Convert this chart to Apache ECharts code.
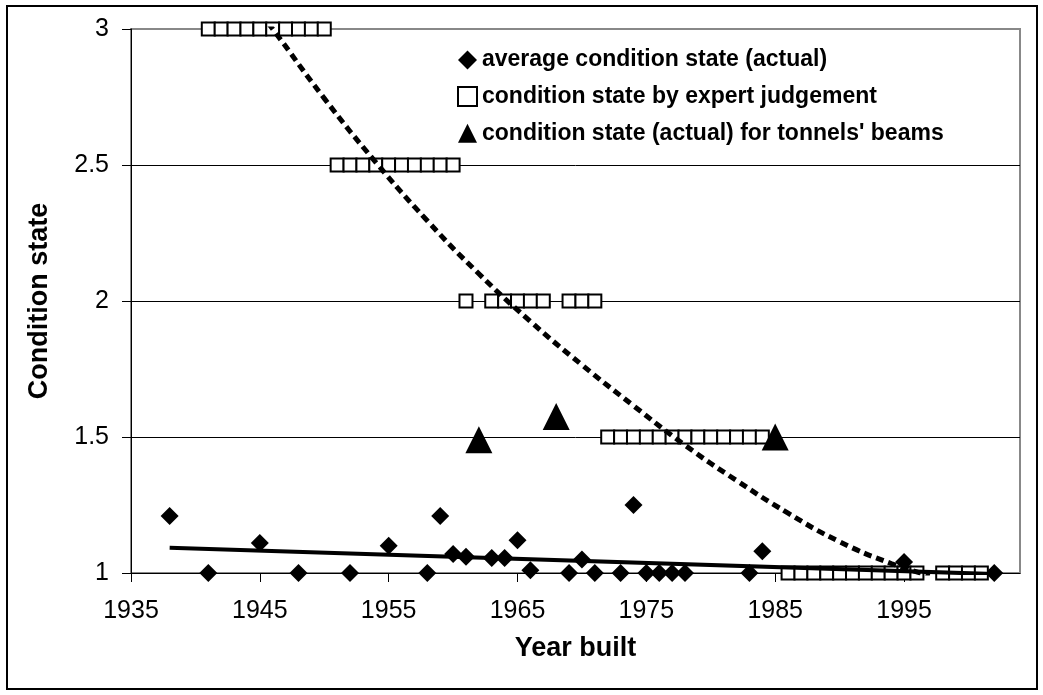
<!DOCTYPE html>
<html>
<head>
<meta charset="utf-8">
<script src="https://cdn.jsdelivr.net/npm/echarts@6/dist/echarts.min.js"></script>
<style>
html,body{margin:0;padding:0;background:#fff;}
#chart{width:1043px;height:695px;}
</style>
</head>
<body>
<div id="chart"></div>
<script>
// ---- data ----
const xTickLabels = [1935, 1945, 1955, 1965, 1975, 1985, 1995];
const yTickLabels = [1, 1.5, 2, 2.5, 3];

const avgYears  = [1938, 1941, 1945, 1948, 1952, 1955, 1958, 1959, 1960, 1961, 1963, 1964, 1965, 1966, 1969, 1970, 1971, 1973, 1974, 1975, 1976, 1977, 1978, 1983, 1984, 1995, 2002];
const avgValues = [1.21, 1.00, 1.11, 1.00, 1.00, 1.10, 1.00, 1.21, 1.07, 1.06, 1.055, 1.055, 1.12, 1.01, 1.00, 1.05, 1.00, 1.00, 1.25, 1.00, 1.00, 1.00, 1.00, 1.00, 1.08, 1.04, 1.00];

const expertYears  = [1941, 1942, 1943, 1944, 1945, 1946, 1947, 1948, 1949, 1950,
                      1951, 1952, 1953, 1954, 1955, 1956, 1957, 1958, 1959, 1960,
                      1961, 1963, 1964, 1965, 1966, 1967, 1969, 1970, 1971,
                      1972, 1973, 1974, 1975, 1976, 1977, 1978, 1979, 1980, 1981, 1982, 1983, 1984,
                      1986, 1987, 1988, 1989, 1990, 1991, 1992, 1993, 1994, 1995, 1996,
                      1998, 1999, 2000, 2001];
const expertValues = [3, 3, 3, 3, 3, 3, 3, 3, 3, 3,
                      2.5, 2.5, 2.5, 2.5, 2.5, 2.5, 2.5, 2.5, 2.5, 2.5,
                      2, 2, 2, 2, 2, 2, 2, 2, 2,
                      1.5, 1.5, 1.5, 1.5, 1.5, 1.5, 1.5, 1.5, 1.5, 1.5, 1.5, 1.5, 1.5,
                      1, 1, 1, 1, 1, 1, 1, 1, 1, 1, 1,
                      1, 1, 1, 1];

const beamYears  = [1962, 1968, 1985];
const beamValues = [1.49, 1.575, 1.50];

// linear trend of the actual averages (end points)
const linTrendYears  = [1938, 2002];
const linTrendValues = [1.093, 0.996];

// polynomial trend of the expert judgement
const polyYears  = [1945, 1946, 1950, 1954, 1958, 1962, 1966, 1970, 1974, 1978, 1982, 1986, 1990, 1994, 1997];
const polyValues = [3.06, 3.00, 2.745, 2.51, 2.295, 2.10, 1.925, 1.765, 1.615, 1.47, 1.34, 1.22, 1.115, 1.035, 0.99];

const names = ['average condition state (actual)', 'condition state by expert judgement', "condition state (actual) for tonnels' beams"];

const zip = (a, b) => a.map((v, i) => [v, b[i]]);
const FONT = "'Liberation Sans', Arial, Helvetica, sans-serif";

const chart = echarts.init(document.getElementById('chart'), null, {renderer: 'canvas'});
chart.setOption({
  animation: false,
  backgroundColor: '#fff',
  textStyle: {fontFamily: FONT},
  graphic: [{
    type: 'rect', silent: true, z: -10,
    shape: {x: 7, y: 6, width: 1030, height: 683},
    style: {fill: 'none', stroke: '#000', lineWidth: 2}
  }],
  grid: {left: 131, right: 23, top: 29, bottom: 122, show: true, borderColor: '#888', borderWidth: 2, backgroundColor: '#fff'},
  legend: {
    orient: 'vertical', left: 452, top: 43,
    itemWidth: 19, itemHeight: 19, itemGap: 12.6,
    selectedMode: false,
    textStyle: {fontSize: 23, fontWeight: 'bold', color: '#000', fontFamily: FONT, lineHeight: 24},
    data: [
      {name: names[0], icon: 'diamond', itemStyle: {color: '#000', borderWidth: 0, opacity: 1}},
      {name: names[1], icon: 'rect', itemStyle: {color: '#fff', borderColor: '#000', borderWidth: 2, opacity: 1}},
      {name: names[2], icon: 'triangle', itemStyle: {color: '#000', borderWidth: 0, opacity: 1}}
    ]
  },
  xAxis: {
    type: 'value', min: 1935, max: 2004, interval: 10,
    name: 'Year built', nameLocation: 'middle', nameGap: 62,
    nameTextStyle: {fontSize: 27, fontWeight: 'bold', color: '#000', fontFamily: FONT},
    axisLine: {show: true, onZero: false, lineStyle: {color: '#000', width: 1}},
    axisTick: {show: true, length: 9, inside: false, customValues: xTickLabels, lineStyle: {color: '#000', width: 1}},
    axisLabel: {show: true, customValues: xTickLabels, fontSize: 25, color: '#000', fontFamily: FONT, margin: 26,
                formatter: v => String(v)},
    splitLine: {show: false}
  },
  yAxis: {
    type: 'value', min: 1, max: 3, interval: 0.5,
    name: 'Condition state', nameLocation: 'middle', nameGap: 78, nameRotate: 90,
    nameTextStyle: {fontSize: 27, fontWeight: 'bold', color: '#000', fontFamily: FONT},
    axisLine: {show: true, lineStyle: {color: '#000', width: 1}},
    axisTick: {show: true, length: 9, inside: false, lineStyle: {color: '#000', width: 1}},
    axisLabel: {show: true, fontSize: 25, color: '#000', fontFamily: FONT, margin: 22,
                formatter: v => String(v)},
    splitLine: {show: true, showMinLine: false, showMaxLine: false, lineStyle: {color: '#000', width: 1}}
  },
  series: [
    {
      name: names[0], type: 'scatter', symbol: 'diamond', symbolSize: 18,
      itemStyle: {color: '#000', opacity: 1},
      data: zip(avgYears, avgValues)
    },
    {
      name: names[1], type: 'scatter', symbol: 'rect', symbolSize: 13,
      itemStyle: {color: '#fff', borderColor: '#000', borderWidth: 2, opacity: 1},
      data: zip(expertYears, expertValues)
    },
    {
      name: names[2], type: 'scatter', symbol: 'triangle', symbolSize: [27, 27],
      itemStyle: {color: '#000', opacity: 1},
      data: zip(beamYears, beamValues)
    },
    {
      name: 'linear trend', type: 'line', symbol: 'none', silent: true, clip: true,
      lineStyle: {color: '#000', width: 4},
      data: zip(linTrendYears, linTrendValues)
    },
    {
      name: 'poly trend', type: 'line', symbol: 'none', silent: true, clip: true, smooth: true,
      lineStyle: {color: '#000', width: 5, type: [8, 5]},
      data: zip(polyYears, polyValues)
    }
  ]
});
</script>
</body>
</html>
